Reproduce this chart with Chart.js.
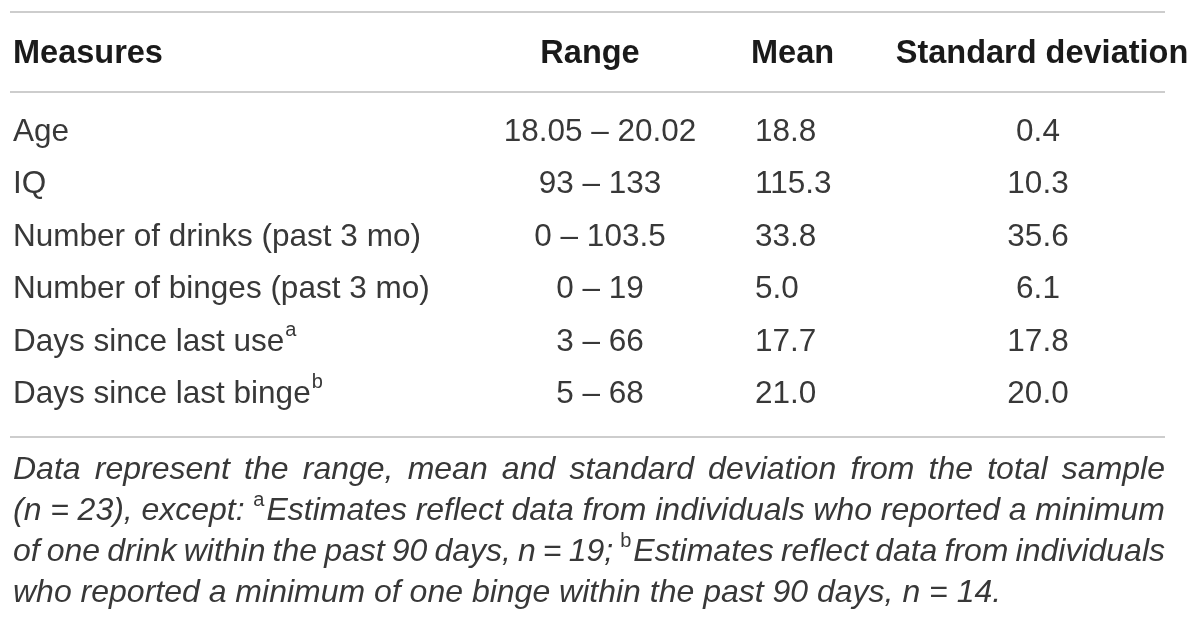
<!DOCTYPE html>
<html>
<head>
<meta charset="utf-8">
<script src="https://cdn.jsdelivr.net/npm/chart.js@4.4.1/dist/chart.umd.min.js"></script>
<style>
  html, body { margin: 0; padding: 0; background: #fff; }
  #wrap { width: 1200px; height: 624px; }
</style>
</head>
<body>
<div id="wrap"><canvas id="tbl" width="1200" height="624"></canvas></div>
<script>
// table content
const headers = ['Measures', 'Range', 'Mean', 'Standard deviation'];
const measures = ['Age', 'IQ', 'Number of drinks (past 3 mo)', 'Number of binges (past 3 mo)', 'Days since last use', 'Days since last binge'];
const measureNotes = ['', '', '', '', 'a', 'b'];
const ranges = ['18.05 – 20.02', '93 – 133', '0 – 103.5', '0 – 19', '3 – 66', '5 – 68'];
const means = [18.8, 115.3, 33.8, 5.0, 17.7, 21.0];
const sds = [0.4, 10.3, 35.6, 6.1, 17.8, 20.0];

// footnote, one entry per printed line; {sup:'a'} marks a superscript
const footLines = [
    ['Data represent the range, mean and standard deviation from the total sample'],
    ['(n = 23), except: ', {sup: 'a'}, 'Estimates reflect data from individuals who reported a minimum'],
    ['of one drink within the past 90 days, n = 19; ', {sup: 'b'}, 'Estimates reflect data from individuals'],
    ['who reported a minimum of one binge within the past 90 days, n = 14.']
];
const footJustify = [true, true, true, false];

// layout
const colX = [13, 600, 755, 1038];
const colAlign = ['left', 'center', 'left', 'center'];
const headX = [13, 590, 751, 1042];
const headAlign = ['left', 'center', 'left', 'center'];
const L = {
    left: 10, right: 1165,
    topLine: 12, headLine: 92, bottomLine: 437,
    headY: 54,
    footY: [470, 511, 552, 593],
    font: 'Liberation Sans, Arial, Helvetica, sans-serif',
    bodySize: 31.5, headSize: 32.5, footSize: 32, supSize: 20
};

const cellText = [
    measures,
    ranges,
    means.map(v => v.toFixed(1)),
    sds.map(v => v.toFixed(1))
];

function hline(ctx, y) {
    ctx.save();
    ctx.strokeStyle = '#bdbdbd';
    ctx.lineWidth = 1.5;
    ctx.beginPath();
    ctx.moveTo(L.left, y);
    ctx.lineTo(L.right, y);
    ctx.stroke();
    ctx.restore();
}

function drawFootLine(ctx, parts, y, justify) {
    // split into word tokens, superscripts glue to the next word
    const tokens = [];
    parts.forEach(p => {
        if (typeof p === 'object') {
            tokens.push({t: p.sup, sup: true});
            return;
        }
        p.split(' ').forEach(w => { if (w !== '') tokens.push({t: w, sup: false}); });
    });
    const mainFont = 'italic ' + L.footSize + 'px ' + L.font;
    const supFont = L.supSize + 'px ' + L.font;
    ctx.font = mainFont;
    const spaceW = ctx.measureText(' ').width;
    let natural = 0, gaps = 0;
    tokens.forEach((tk, i) => {
        ctx.font = tk.sup ? supFont : mainFont;
        tk.w = ctx.measureText(tk.t).width + (tk.sup ? 2 : 0);
        natural += tk.w;
        if (i > 0 && !tokens[i - 1].sup) { natural += spaceW; gaps++; }
    });
    const extra = justify && gaps > 0 ? (L.right - 13 - natural) / gaps : 0;
    let x = 13;
    tokens.forEach((tk, i) => {
        if (i > 0 && !tokens[i - 1].sup) x += spaceW + extra;
        ctx.font = tk.sup ? supFont : mainFont;
        ctx.fillText(tk.t, x, tk.sup ? y - 11 : y);
        x += tk.w;
    });
}

const tablePlugin = {
    id: 'tableText',
    afterDatasetsDraw(chart) {
        const ctx = chart.ctx;
        const bodyFont = L.bodySize + 'px ' + L.font;
        ctx.save();
        ctx.textBaseline = 'middle';

        // header row
        ctx.font = 'bold ' + L.headSize + 'px ' + L.font;
        ctx.fillStyle = '#1a1a1a';
        headers.forEach((h, i) => {
            ctx.textAlign = headAlign[i];
            ctx.fillText(h, headX[i], L.headY);
        });

        // body cells, placed by the chart's scales
        ctx.font = bodyFont;
        ctx.fillStyle = '#383838';
        chart.data.datasets.forEach((ds, di) => {
            const meta = chart.getDatasetMeta(di);
            ctx.textAlign = colAlign[di];
            meta.data.forEach((el, i) => {
                const txt = cellText[di][i];
                ctx.fillText(txt, el.x, el.y);
                if (di === 0 && measureNotes[i]) {
                    const w = ctx.measureText(txt).width;
                    ctx.font = L.supSize + 'px ' + L.font;
                    ctx.textAlign = 'left';
                    ctx.fillText(measureNotes[i], el.x + w + 1, el.y - 12);
                    ctx.font = bodyFont;
                    ctx.textAlign = colAlign[di];
                }
            });
        });

        hline(ctx, L.topLine);
        hline(ctx, L.headLine);
        hline(ctx, L.bottomLine);

        // footnote
        ctx.fillStyle = '#383838';
        ctx.textAlign = 'left';
        footLines.forEach((ln, i) => drawFootLine(ctx, ln, L.footY[i], footJustify[i]));
        ctx.restore();
    }
};

const rowStep = 52.5;
const firstRow = 132;

new Chart(document.getElementById('tbl'), {
    type: 'scatter',
    data: {
        datasets: cellText.map((col, c) => ({
            label: headers[c],
            data: measures.map((m) => ({x: colX[c], y: m})),
            pointRadius: 0,
            pointHoverRadius: 0
        }))
    },
    options: {
        responsive: false,
        devicePixelRatio: 1,
        animation: false,
        events: [],
        layout: {
            padding: {
                left: 0, right: 0,
                top: firstRow - rowStep / 2,
                bottom: 624 - (firstRow - rowStep / 2 + rowStep * measures.length)
            }
        },
        scales: {
            x: { type: 'linear', min: 0, max: 1200, display: false },
            y: { type: 'category', labels: measures, offset: true, display: false }
        },
        plugins: {
            legend: { display: false },
            tooltip: { enabled: false }
        }
    },
    plugins: [tablePlugin]
});
</script>
</body>
</html>
